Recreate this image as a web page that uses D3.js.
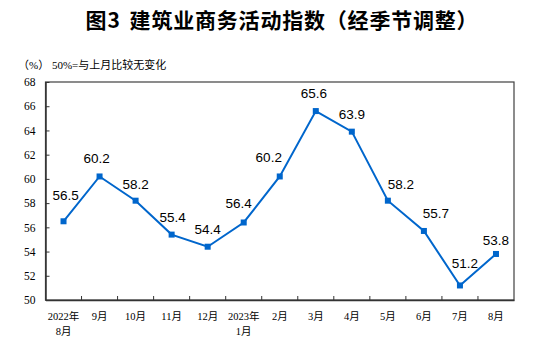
<!DOCTYPE html>
<html><head><meta charset="utf-8">
<script src="https://cdn.jsdelivr.net/npm/d3@7"></script>
<style>body{margin:0;background:#fff}svg{display:block}</style>
</head><body>
<script>
const categories = ["2022年|8月","9月","10月","11月","12月","2023年|1月","2月","3月","4月","5月","6月","7月","8月"];
const values = [56.5,60.2,58.2,55.4,54.4,56.4,60.2,65.6,63.9,58.2,55.7,51.2,53.8];
const yTicks = [50,52,54,56,58,60,62,64,66,68];
const labelOffsets = [[2,-21],[-3,-13],[0,-12],[1,-13],[0,-13],[-5,-14],[-11,-14],[-2,-13],[0,-13],[13,-12],[12,-13],[5,-17],[0,-9]];
const titleA = "图3", titleB = "建筑业商务活动指数（经季节调整）";
const unitNote = "（%）  50%=与上月比较无变化";

const W=534,H=347, L=45.5, R=514, T=82, B=300;
const svg = d3.select("body").append("svg").attr("width",W).attr("height",H);
const x = d3.scaleBand().domain(categories).range([L,R]);
const y = d3.scaleLinear().domain([50,68]).range([B,T]);
const numFont = "'Liberation Serif','Noto Sans CJK SC',serif";
const cjk = "'Liberation Serif','Noto Sans CJK SC',sans-serif";

const tt = svg.append("text").attr("x",282).attr("y",28).attr("text-anchor","middle")
  .attr("font-family","'Noto Sans CJK SC',sans-serif").attr("font-weight","bold").attr("font-size",21)
  .attr("letter-spacing",0.8).attr("fill","#000");
tt.append("tspan").text(titleA);
tt.append("tspan").attr("dx",9).text(titleB);
svg.append("text").attr("x",18).attr("y",69).attr("font-family",cjk).attr("font-size",11)
  .attr("fill","#000").text(unitNote);

// frame
svg.append("rect").attr("x",L).attr("y",T).attr("width",R-L).attr("height",B-T)
  .attr("fill","none").attr("stroke","#404040").attr("stroke-width",1.2);

// y axis
const ya = svg.append("g").attr("transform",`translate(${L},0)`)
  .call(d3.axisLeft(y).tickValues(yTicks).tickSizeInner(-4).tickSizeOuter(0).tickPadding(10));
ya.select(".domain").attr("stroke","#333").attr("stroke-width",1.5);
ya.selectAll(".tick line").attr("stroke","#333");
ya.selectAll(".tick text").attr("font-family",numFont).attr("font-size",11.5).attr("fill","#000");

// x axis
const xa = svg.append("g").attr("transform",`translate(0,${B})`)
  .call(d3.axisBottom(x).tickSize(0).tickPadding(0));
xa.select(".domain").attr("stroke","#333").attr("stroke-width",1.5);
xa.selectAll(".tick text").each(function(d){
  const t=d3.select(this); t.text(null).attr("dy",null).attr("y",null)
    .attr("font-family",cjk).attr("font-size",10.5).attr("fill","#000");
  d.split("|").forEach((s,i)=>t.append("tspan").attr("x",0).attr("y",20+i*14.5).text(s));
});
xa.selectAll(".tick").filter((d,i)=>i>0).append("line")
  .attr("x1",-x.bandwidth()/2).attr("x2",-x.bandwidth()/2).attr("y1",0).attr("y2",-4).attr("stroke","#333");

// line
const cx = (d,i)=>x(categories[i])+x.bandwidth()/2;
svg.append("path").datum(values).attr("fill","none").attr("stroke","#0066CC").attr("stroke-width",2)
  .attr("d",d3.line().x(cx).y(d=>y(d)));
svg.selectAll("rect.m").data(values).join("rect").attr("class","m")
  .attr("x",(d,i)=>cx(d,i)-3).attr("y",d=>y(d)-3).attr("width",6).attr("height",6).attr("fill","#0066CC");
svg.selectAll("text.v").data(values).join("text").attr("class","v")
  .attr("x",(d,i)=>cx(d,i)+labelOffsets[i][0]).attr("y",(d,i)=>y(d)+labelOffsets[i][1])
  .attr("text-anchor","middle").attr("font-family","'Liberation Sans',Arial,sans-serif").attr("font-size",13.5)
  .attr("fill","#000").text(d=>d.toFixed(1));
</script>
</body></html>
